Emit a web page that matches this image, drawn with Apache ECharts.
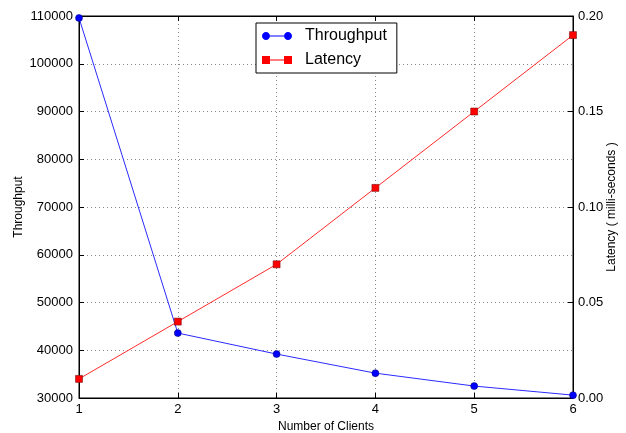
<!DOCTYPE html>
<html>
<head>
<meta charset="utf-8">
<script src="https://cdn.jsdelivr.net/npm/echarts@6/dist/echarts.min.js"></script>
<style>
  html, body { margin: 0; padding: 0; background: #fff; }
  #chart { width: 626px; height: 433px; }
</style>
</head>
<body>
<div id="chart"></div>
<script>
// 数据
var clients = [1, 2, 3, 4, 5, 6];
var throughput = [109600, 43600, 39200, 35200, 32500, 30600];
var latency = [0.01, 0.04, 0.07, 0.11, 0.15, 0.19];

var myChart = echarts.init(document.getElementById('chart'));

var font = 'Liberation Sans, Arial, sans-serif';
var tickStyle = { inside: true, length: 5, lineStyle: { color: '#000' } };

// 图例图标: 两端标记 + 中间线段
var circleIcon = 'path://M4,0C6.2,0 8,1.8 8,4C8,6.2 6.2,8 4,8C1.8,8 0,6.2 0,4C0,1.8 1.8,0 4,0z' +
    'M26,0C28.2,0 30,1.8 30,4C30,6.2 28.2,8 26,8C23.8,8 22,6.2 22,4C22,1.8 23.8,0 26,0z' +
    'M8,3.5h14v1h-14z';
var rectIcon = 'path://M0,0h8v8h-8zM22,0h8v8h-8zM8,3.5h14v1h-14z';

myChart.setOption({
    animation: false,
    grid: {
        left: 79, right: 53, top: 16, bottom: 35,
        outerBoundsMode: 'none', containLabel: false,
        show: true, borderColor: '#000', borderWidth: 1
    },
    legend: {
        orient: 'vertical',
        left: 256, top: 23,
        padding: [5, 10, 5, 6],
        backgroundColor: '#fff',
        borderColor: '#000',
        borderWidth: 1,
        borderRadius: 0,
        itemWidth: 30, itemHeight: 8, itemGap: 8,
        itemStyle: { borderWidth: 0 },
        textStyle: { fontSize: 16, fontFamily: font, color: '#000', padding: [0, 0, 0, 8] },
        data: [
            { name: 'Throughput', icon: circleIcon },
            { name: 'Latency', icon: rectIcon }
        ]
    },
    xAxis: [
        {
            type: 'value', min: 1, max: 6, interval: 1,
            name: 'Number of Clients', nameLocation: 'middle', nameGap: 23,
            nameMoveOverlap: false,
            nameTextStyle: { fontSize: 12, fontFamily: font, color: '#000' },
            axisLine: { lineStyle: { color: '#000' } },
            axisTick: tickStyle,
            axisLabel: { fontSize: 13, fontFamily: font, color: '#000', margin: 5 },
            splitLine: { show: true, lineStyle: { color: '#888', type: [1, 3] } }
        },
        {
            type: 'value', min: 1, max: 6, interval: 1, position: 'top',
            axisLine: { lineStyle: { color: '#000' } },
            axisTick: tickStyle, axisLabel: { show: false }, splitLine: { show: false }
        }
    ],
    yAxis: [
        {
            type: 'value', min: 30000, max: 110000, interval: 10000,
            name: 'Throughput', nameLocation: 'middle', nameGap: 54,
            nameMoveOverlap: false,
            nameTextStyle: { fontSize: 12, fontFamily: font, color: '#000' },
            axisLine: { show: true, lineStyle: { color: '#000' } },
            axisTick: tickStyle,
            axisLabel: {
                fontSize: 13, fontFamily: font, color: '#000', margin: 6,
                formatter: function (v) { return String(v); }
            },
            splitLine: { show: true, lineStyle: { color: '#888', type: [1, 3] } }
        },
        {
            type: 'value', min: 0, max: 0.2, interval: 0.05, position: 'right',
            name: 'Latency ( milli-seconds )', nameLocation: 'middle', nameGap: 33,
            nameMoveOverlap: false,
            nameTextStyle: { fontSize: 12, fontFamily: font, color: '#000' },
            axisLine: { show: true, lineStyle: { color: '#000' } },
            axisTick: tickStyle,
            axisLabel: {
                fontSize: 13, fontFamily: font, color: '#000', margin: 5,
                formatter: function (v) { return v.toFixed(2); }
            },
            splitLine: { show: false }
        }
    ],
    series: [
        {
            name: 'Throughput', type: 'line', xAxisIndex: 0, yAxisIndex: 0,
            data: clients.map(function (c, i) { return [c, throughput[i]]; }),
            symbol: 'circle', symbolSize: 7,
            lineStyle: { color: '#2a2aff', width: 1 },
            itemStyle: { color: '#0000ff', borderColor: '#000066', borderWidth: 0.5 }
        },
        {
            name: 'Latency', type: 'line', xAxisIndex: 0, yAxisIndex: 1,
            data: clients.map(function (c, i) { return [c, latency[i]]; }),
            symbol: 'rect', symbolSize: 7,
            lineStyle: { color: '#ff2a2a', width: 1 },
            itemStyle: { color: '#ff0000', borderColor: '#660000', borderWidth: 0.5 }
        }
    ]
});
</script>
</body>
</html>
